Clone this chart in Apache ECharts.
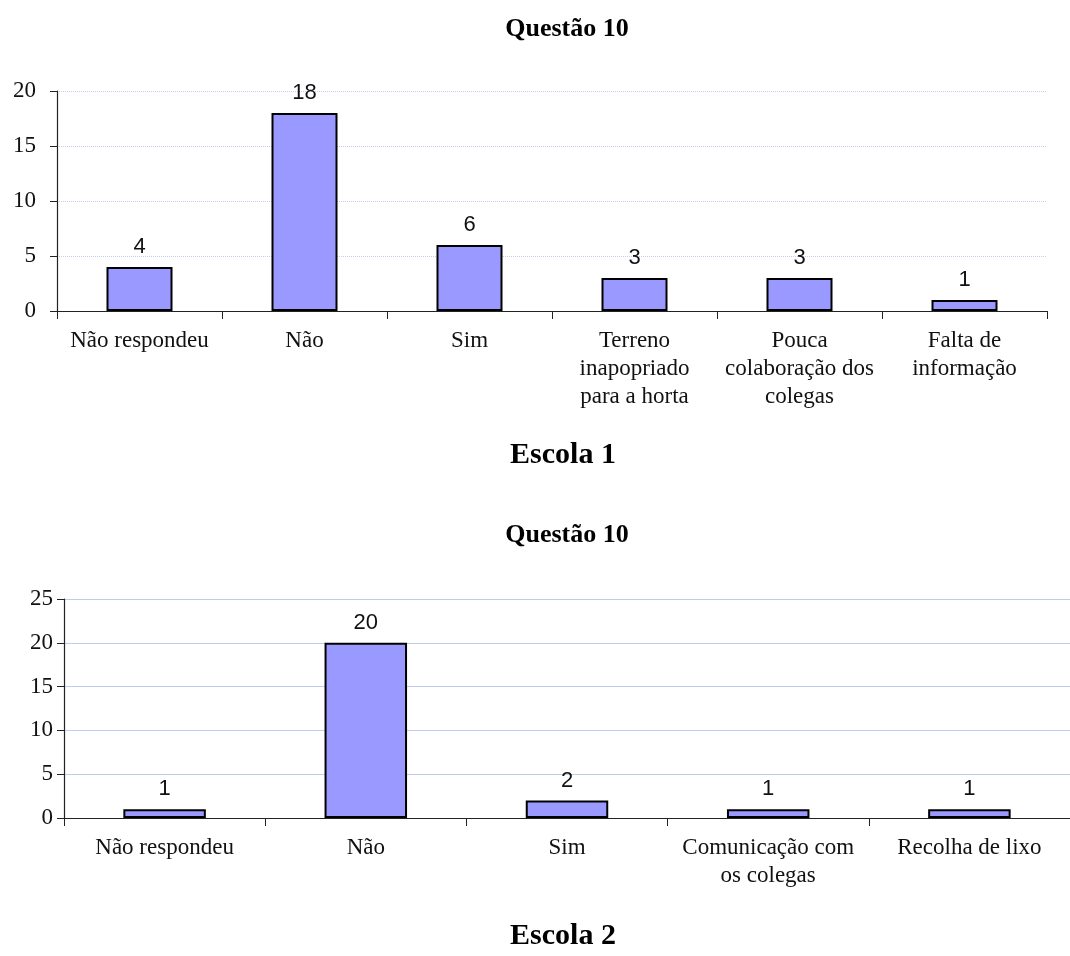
<!DOCTYPE html>
<html>
<head>
<meta charset="utf-8">
<script src="https://cdn.jsdelivr.net/npm/echarts@6/dist/echarts.min.js"></script>
<style>
  html, body { margin: 0; padding: 0; background: #fff; }
  #chart { width: 1070px; height: 956px; }
</style>
</head>
<body>
<div id="chart"></div>
<script>
// Escola 1
const categories1 = ['Não respondeu', 'Não', 'Sim', 'Terreno\ninapopriado\npara a horta', 'Pouca\ncolaboração dos\ncolegas', 'Falta de\ninformação']
const values1 = [4, 18, 6, 3, 3, 1]
const yTicks1 = { max: 20, interval: 5 }

// Escola 2
const categories2 = ['Não respondeu', 'Não', 'Sim', 'Comunicação com\nos colegas', 'Recolha de lixo']
const values2 = [1, 20, 2, 1, 1]
const yTicks2 = { max: 25, interval: 5 }

const serif = '"Liberation Serif", "Times New Roman", serif'
const sans = '"Liberation Sans", Arial, sans-serif'

const xAxisBase = (idx, data, axisColor) => ({
  type: 'category',
  gridIndex: idx,
  data: data,
  boundaryGap: true,
  axisLine: { lineStyle: { color: axisColor, width: 1.2 } },
  axisTick: { show: true, length: 8, lineStyle: { color: axisColor } },
  axisLabel: {
    interval: 0,
    margin: 16,
    color: '#111',
    fontFamily: serif,
    fontSize: 23,
    lineHeight: 28
  }
})

const yAxisBase = (idx, ticks, axisColor, grid, margin) => ({
  type: 'value',
  gridIndex: idx,
  min: 0,
  max: ticks.max,
  interval: ticks.interval,
  axisLine: { show: true, lineStyle: { color: axisColor, width: 1.2 } },
  axisTick: { show: true, length: 7, lineStyle: { color: axisColor } },
  axisLabel: { margin: margin, color: '#111', fontFamily: serif, fontSize: 23 },
  splitLine: { show: true, lineStyle: grid }
})

const barSeries = (idx, values, width) => ({
  type: 'bar',
  xAxisIndex: idx,
  yAxisIndex: idx,
  data: values,
  barWidth: width,
  itemStyle: { color: '#9999ff', borderColor: '#000', borderWidth: 2 },
  label: {
    show: true,
    position: 'top',
    distance: 9,
    color: '#111',
    fontFamily: sans,
    fontSize: 22
  }
})

const chart = echarts.init(document.getElementById('chart'), null, { renderer: 'canvas' })

chart.setOption({
  animation: false,
  backgroundColor: '#fff',
  title: [
    { text: 'Questão 10', left: 567, top: 16, textAlign: 'center', padding: 0,
      textStyle: { fontFamily: serif, fontSize: 26, fontWeight: 'bold', color: '#000' } },
    { text: 'Escola 1', left: 563, top: 440, textAlign: 'center', padding: 0,
      textStyle: { fontFamily: serif, fontSize: 30, fontWeight: 'bold', color: '#000' } },
    { text: 'Questão 10', left: 567, top: 522, textAlign: 'center', padding: 0,
      textStyle: { fontFamily: serif, fontSize: 26, fontWeight: 'bold', color: '#000' } },
    { text: 'Escola 2', left: 563, top: 921, textAlign: 'center', padding: 0,
      textStyle: { fontFamily: serif, fontSize: 30, fontWeight: 'bold', color: '#000' } }
  ],
  grid: [
    { left: 57, top: 91, width: 990, height: 220 },
    { left: 64, top: 599, width: 1015, height: 219 }
  ],
  xAxis: [
    xAxisBase(0, categories1, '#222'),
    xAxisBase(1, categories2, '#222')
  ],
  yAxis: [
    yAxisBase(0, yTicks1, '#222', { color: '#c2cfee', type: 'dotted', width: 1 }, 21),
    yAxisBase(1, yTicks2, '#222', { color: '#bccdf0', type: 'solid', width: 1 }, 11)
  ],
  series: [
    barSeries(0, values1, '40%'),
    barSeries(1, values2, '41%')
  ]
})
</script>
</body>
</html>
